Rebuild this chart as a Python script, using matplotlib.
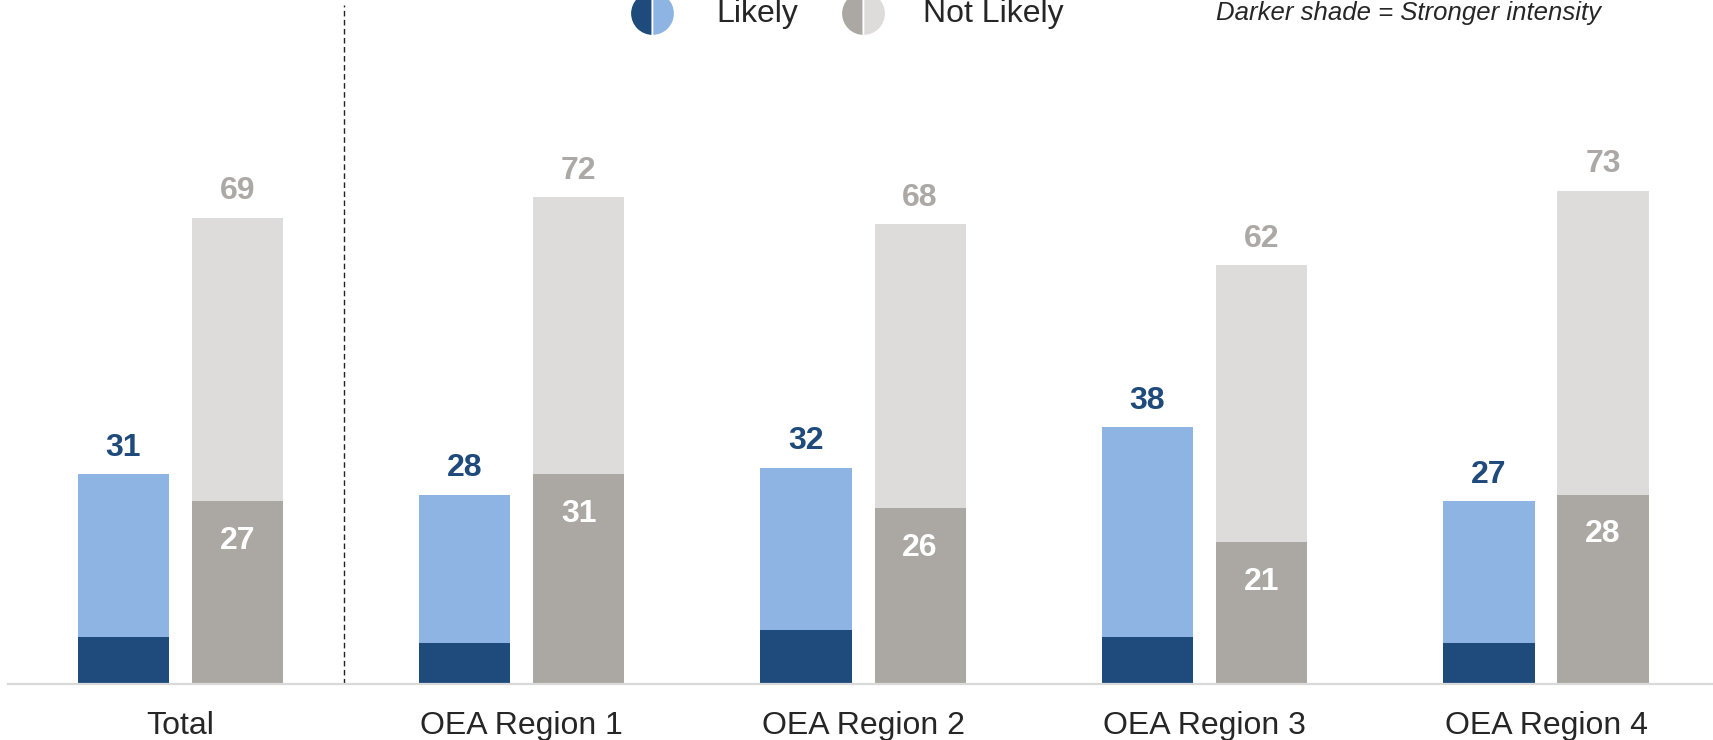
import matplotlib
matplotlib.use("Agg")
import matplotlib.pyplot as plt
from matplotlib.lines import Line2D
import numpy as np

plt.rcParams['font.family'] = ['Liberation Sans', 'DejaVu Sans']

# данные
groups = ["Total", "OEA Region 1", "OEA Region 2", "OEA Region 3", "OEA Region 4"]
likely_total = [31, 28, 32, 38, 27]
likely_strong = [7, 6, 8, 7, 6]
not_likely_total = [69, 72, 68, 62, 73]
not_likely_strong = [27, 31, 26, 21, 28]

# цвета
dark_blue = "#1F4A7C"
light_blue = "#8EB4E3"
dark_grey = "#ABA7A3"
light_grey = "#DDDCDB"
label_grey = "#ACA8A5"

fig = plt.figure(figsize=(17.13, 7.4), dpi=100)
ax = fig.add_axes([0.0047, 0.0757, 0.9953, 0.9243])

x = np.arange(len(groups))
w = 0.267
off = 0.167

lt = np.array(likely_total)
ls = np.array(likely_strong)
nt = np.array(not_likely_total)
ns = np.array(not_likely_strong)

# Likely: тёмная часть снизу, светлая сверху
ax.bar(x - off, ls, w, color=dark_blue, zorder=2)
ax.bar(x - off, lt - ls, w, bottom=ls, color=light_blue, zorder=2)
# Not Likely
ax.bar(x + off, ns, w, color=dark_grey, zorder=2)
ax.bar(x + off, nt - ns, w, bottom=ns, color=light_grey, zorder=2)

# подписи
for i in range(len(groups)):
    ax.annotate(str(lt[i]), (x[i] - off, lt[i]), xytext=(0, 19),
                textcoords="offset points", ha="center", va="center",
                fontsize=23, fontweight="bold", color=dark_blue)
    ax.annotate(str(nt[i]), (x[i] + off, nt[i]), xytext=(0, 19),
                textcoords="offset points", ha="center", va="center",
                fontsize=23, fontweight="bold", color=label_grey)
    ax.annotate(str(ns[i]), (x[i] + off, ns[i]), xytext=(0, -28.5),
                textcoords="offset points", ha="center", va="center",
                fontsize=23, fontweight="bold", color="white")

# пунктир между Total и регионами
ax.plot([0.48, 0.48], [0, 100.5], color="#222222", lw=1.0,
        linestyle=(0, (4, 2.5)), zorder=1)

ax.set_xlim(-0.504, 4.489)
ax.set_ylim(0, 101.2)
ax.set_xticks(x)
ax.set_xticklabels(groups, fontsize=23, color="#262626")
ax.tick_params(axis="x", length=0, pad=19.5)
ax.set_yticks([])
for s in ["top", "left", "right"]:
    ax.spines[s].set_visible(False)
ax.spines["bottom"].set_color("#D9D9D9")
ax.spines["bottom"].set_linewidth(1.6)

# легенда
ly = 1 - 13 / 740
for cx, c1, c2 in [(652, dark_blue, light_blue), (863, dark_grey, light_grey)]:
    fig.add_artist(Line2D([cx / 1713], [ly], transform=fig.transFigure,
                          marker="o", markersize=32, fillstyle="left",
                          markerfacecolor=c1, markerfacecoloralt=c2,
                          markeredgecolor="white", markeredgewidth=1.2,
                          linestyle="none"))
fig.text(716 / 1713, 1 - 14 / 740, "Likely", fontsize=23, color="#262626",
         ha="left", va="center")
fig.text(923 / 1713, 1 - 14 / 740, "Not Likely", fontsize=23, color="#262626",
         ha="left", va="center")
fig.text(1216 / 1713, 1 - 13 / 740, "Darker shade = Stronger intensity",
         fontsize=18.5, style="italic", color="#262626", ha="left", va="center")

fig.savefig("out.png", dpi=100)
